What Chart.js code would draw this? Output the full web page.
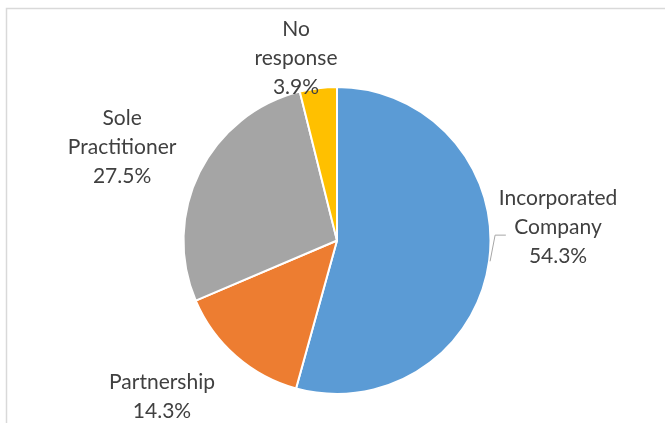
<!DOCTYPE html>
<html>
<head>
<meta charset="utf-8">
<script src="https://cdn.jsdelivr.net/npm/chart.js@4"></script>
<style>
  html, body { margin: 0; padding: 0; background: #fff; }
  #wrap { width: 665px; height: 423px; position: relative; }
</style>
</head>
<body>
<div id="wrap"><canvas id="ownership-pie" width="665" height="423"></canvas></div>
<script>
// business type breakdown (percent of respondents)
const categories = ['Incorporated Company', 'Partnership', 'Sole Practitioner', 'No response'];
const shares = [54.3, 14.3, 27.5, 3.9];
const sliceColors = ['#5B9BD5', '#ED7D31', '#A5A5A5', '#FFC000'];

// label text lines for each slice
const labelLines = [
  ['Incorporated', 'Company'],
  ['Partnership'],
  ['Sole', 'Practitioner'],
  ['No', 'response']
];

// where each label block sits, in radius units from the pie centre
const labelSpots = [
  [1.44, -0.088],
  [-1.14, 1.02],
  [-1.40, -0.609],
  [-0.267, -1.189]
];

const frame = {
  id: 'frame',
  beforeDraw(chart) {
    const c = chart.ctx;
    c.save();
    c.strokeStyle = '#d9d9d9';
    c.lineWidth = 1.5;
    c.beginPath();
    c.moveTo(6.5, chart.height);
    c.lineTo(6.5, 8.5);
    c.lineTo(chart.width, 8.5);
    c.stroke();
    c.restore();
  }
};

const sliceLabels = {
  id: 'sliceLabels',
  afterDatasetsDraw(chart) {
    const c = chart.ctx;
    const arcs = chart.getDatasetMeta(0).data;
    const cx = arcs[0].x, cy = arcs[0].y, r = arcs[0].outerRadius;
    const lineH = 29;
    c.save();
    c.font = '21px Lato';
    c.fillStyle = '#404040';
    c.textAlign = 'center';
    c.textBaseline = 'middle';
    arcs.forEach((arc, i) => {
      const lines = labelLines[i].concat([shares[i].toFixed(1) + '%']);
      const mx = cx + labelSpots[i][0] * r;
      const my = cy + labelSpots[i][1] * r;
      const top = my - (lines.length - 1) * lineH / 2;
      lines.forEach((t, k) => c.fillText(t, mx, top + k * lineH));
    });

    // leader line for the big slice
    const a = arcs[0];
    const mid = (a.startAngle + a.endAngle) / 2;
    const ex = cx + Math.cos(mid) * (r + 1);
    const ey = cy + Math.sin(mid) * (r + 1);
    c.strokeStyle = '#a6a6a6';
    c.lineWidth = 1;
    c.beginPath();
    c.moveTo(ex, ey);
    c.lineTo(cx + 1.03 * r, cy - 0.035 * r);
    c.lineTo(cx + 1.1 * r, cy - 0.035 * r);
    c.stroke();
    c.restore();
  }
};

new Chart(document.getElementById('ownership-pie'), {
  type: 'pie',
  data: {
    labels: categories,
    datasets: [{
      data: shares,
      backgroundColor: sliceColors,
      borderColor: '#ffffff',
      borderWidth: 2
    }]
  },
  options: {
    responsive: false,
    animation: false,
    layout: { padding: { left: 9, right: 0, top: 86, bottom: 28 } },
    plugins: {
      legend: { display: false },
      tooltip: { enabled: false }
    }
  },
  plugins: [frame, sliceLabels]
});
</script>
</body>
</html>
